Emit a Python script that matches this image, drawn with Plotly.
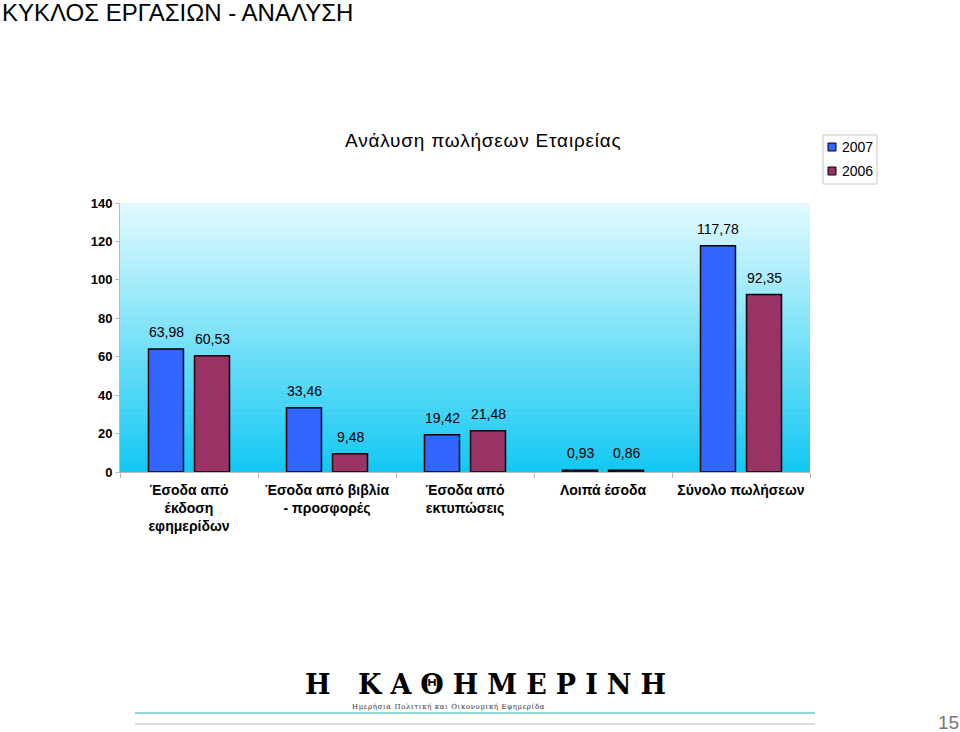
import plotly.graph_objects as go

categories = ["Έσοδα από<br>έκδοση<br>εφημερίδων", "Έσοδα από βιβλία<br>- προσφορές",
              "Έσοδα από<br>εκτυπώσεις", "Λοιπά έσοδα", "Σύνολο πωλήσεων"]
values_2007 = [63.98, 33.46, 19.42, 0.93, 117.78]
values_2006 = [60.53, 9.48, 21.48, 0.86, 92.35]
series_names = ["2007", "2006"]
y_ticks = [0, 20, 40, 60, 80, 100, 120, 140]

FONT = "Arial, Liberation Sans, sans-serif"
SERIF = "DejaVu Serif, Liberation Serif, serif"
COLORS = ["#3366FF", "#993366"]

fig = go.Figure()
for name, vals, col in zip(series_names, [values_2007, values_2006], COLORS):
    fig.add_trace(go.Bar(x=categories, y=vals, name=name, showlegend=False,
                         marker=dict(color=col, line=dict(color="black", width=1.5))))

def fmt(v):
    return f"{v:.2f}".replace(".", ",")

annotations = []
for vals, dx in zip([values_2007, values_2006], [-23, 23]):
    for cat, v in zip(categories, vals):
        annotations.append(dict(x=cat, y=v, xref="x", yref="y", text=fmt(v), showarrow=False,
                                xshift=dx, yshift=7, yanchor="bottom",
                                font=dict(family=FONT, size=14, color="black")))

# pixel helpers for layout furniture (plot area 120..810 x 203..472)
L, R, T, B = 120, 810, 203, 472
pw, ph = R - L, B - T
def px(x):
    return (x - L) / pw
def py(y):
    return (B - y) / ph

annotations += [
    dict(x=px(0), y=py(12), xref="paper", yref="paper", xanchor="left", yanchor="middle",
         showarrow=False, text="ΚΥΚΛΟΣ ΕΡΓΑΣΙΩΝ - ΑΝΑΛΥΣΗ",
         font=dict(family=FONT, size=24, color="black")),
    dict(x=px(483), y=py(141), xref="paper", yref="paper", xanchor="center", yanchor="middle",
         showarrow=False,
         text='<span style="letter-spacing:0.8px">Ανάλυση πωλήσεων Εταιρείας</span>',
         font=dict(family=FONT, size=19, color="black")),
    dict(x=px(490), y=py(684), xref="paper", yref="paper", xanchor="center", yanchor="middle",
         showarrow=False,
         text='<span style="letter-spacing:9px">Η ΚΑΘΗΜΕΡΙΝΗ</span>',
         font=dict(family=SERIF, size=27, color="black", weight="bold")),
    dict(x=px(448), y=py(707), xref="paper", yref="paper", xanchor="center", yanchor="middle",
         showarrow=False,
         text='<span style="letter-spacing:0.6px">Ημερήσια Πολιτική και Οικονομική Εφημερίδα</span>',
         font=dict(family=SERIF, size=7, color="#333333")),
    dict(x=px(948), y=py(722), xref="paper", yref="paper", xanchor="center", yanchor="middle",
         showarrow=False, text="15",
         font=dict(family=FONT, size=19, color="#777777")),
]
# manual legend text
for i, (name, col) in enumerate(zip(series_names, COLORS)):
    annotations.append(dict(x=px(840), y=py(147 + 24 * i), xref="paper", yref="paper",
                            xanchor="left", yanchor="middle", showarrow=False, text=name,
                            font=dict(family=FONT, size=14, color="black")))

# gradient background stripes
shapes = []
N = 60
top = (225, 250, 255)
bot = (20, 200, 242)
for i in range(N):
    t = i / (N - 1)
    c = tuple(int(round(bot[k] + (top[k] - bot[k]) * t)) for k in range(3))
    shapes.append(dict(type="rect", xref="x domain", yref="y domain", x0=0, x1=1,
                       y0=i / N, y1=min(1, (i + 1) / N + 0.002), fillcolor=f"rgb{c}",
                       line=dict(width=0), layer="below"))
# legend box and swatches
shapes.append(dict(type="rect", xref="paper", yref="paper", x0=px(823), x1=px(877),
                   y0=py(184), y1=py(135), line=dict(color="#c8c8c8", width=1),
                   fillcolor="white"))
for i, col in enumerate(COLORS):
    shapes.append(dict(type="rect", xref="paper", yref="paper", x0=px(828), x1=px(836),
                       y0=py(151 + 24 * i), y1=py(143 + 24 * i),
                       line=dict(color="black", width=1), fillcolor=col))
# footer lines
shapes.append(dict(type="line", xref="paper", yref="paper", x0=px(135), x1=px(815),
                   y0=py(713), y1=py(713), line=dict(color="#8fd6d6", width=2)))
shapes.append(dict(type="line", xref="paper", yref="paper", x0=px(135), x1=px(815),
                   y0=py(724), y1=py(724), line=dict(color="#dddddd", width=2)))

fig.update_layout(
    width=960, height=732,
    margin=dict(l=L, r=960 - R, t=T, b=732 - B),
    paper_bgcolor="white", plot_bgcolor="white",
    barmode="group", bargap=0.333, bargroupgap=0.24,
    showlegend=False,
    annotations=annotations,
    shapes=shapes,
    font=dict(family=FONT),
)
fig.update_xaxes(showgrid=False, showline=True, linecolor="#bbbbbb", linewidth=1,
                 ticks="outside", tickson="boundaries", ticklen=5, tickcolor="#bbbbbb",
                 ticklabelstandoff=5,
                 tickfont=dict(family=FONT, size=14, color="black", weight="bold"),
                 fixedrange=True)
fig.update_yaxes(range=[0, 140], tickvals=y_ticks, showgrid=False, showline=True,
                 linecolor="#bbbbbb", linewidth=1, ticks="outside", ticklen=4,
                 tickcolor="#bbbbbb", zeroline=False,
                 tickfont=dict(family=FONT, size=13, color="black", weight="bold"))

fig.write_html("out.html")
